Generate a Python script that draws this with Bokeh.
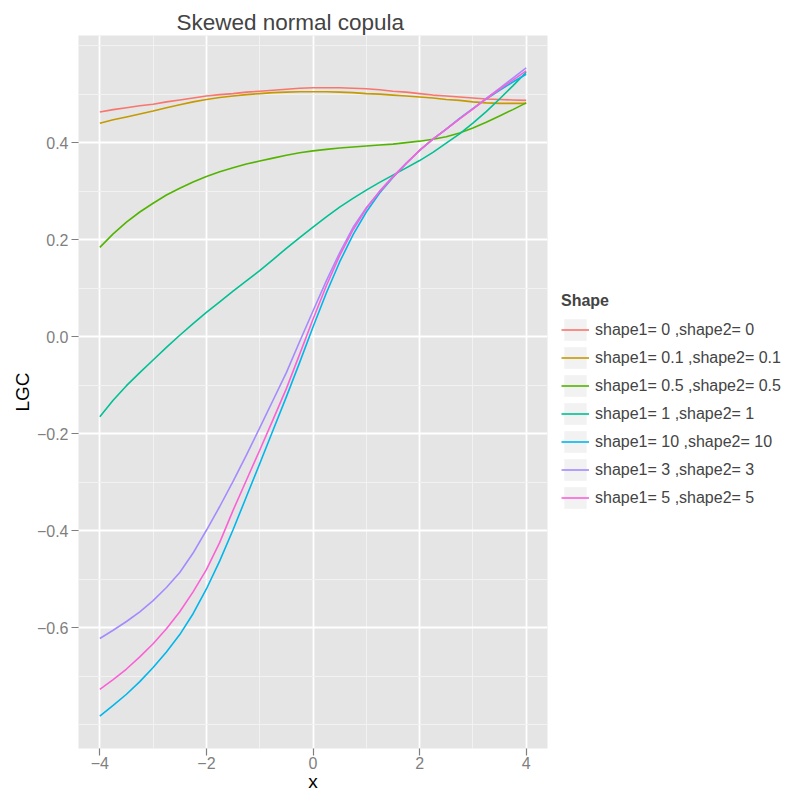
import numpy as np
from bokeh.plotting import figure
from bokeh.models import Range1d, FixedTicker, Legend, LegendItem, ColumnDataSource
from bokeh.embed import file_html
from bokeh.resources import INLINE

# ---------------- data ----------------
x_vals = [-4, -3.75, -3.5, -3.25, -3, -2.75, -2.5, -2.25, -2, -1.75, -1.5, -1.25, -1, -0.75, -0.5, -0.25,
          0, 0.25, 0.5, 0.75, 1, 1.25, 1.5, 1.75, 2, 2.25, 2.5, 2.75, 3, 3.25, 3.5, 3.75, 4]

lgc_s0 = [0.463, 0.468, 0.472, 0.476, 0.479, 0.484, 0.488, 0.492, 0.496, 0.499, 0.501, 0.504, 0.506, 0.508, 0.510, 0.512,
          0.513, 0.513, 0.513, 0.512, 0.511, 0.509, 0.506, 0.504, 0.501, 0.498, 0.496, 0.494, 0.492, 0.490, 0.489, 0.488, 0.487]
lgc_s01 = [0.440, 0.447, 0.453, 0.459, 0.465, 0.472, 0.478, 0.484, 0.489, 0.493, 0.496, 0.499, 0.501, 0.503, 0.504, 0.505,
           0.505, 0.505, 0.504, 0.503, 0.501, 0.500, 0.498, 0.496, 0.494, 0.492, 0.489, 0.487, 0.484, 0.482, 0.481, 0.481, 0.481]
lgc_s05 = [0.184, 0.212, 0.236, 0.257, 0.275, 0.292, 0.306, 0.319, 0.330, 0.340, 0.348, 0.356, 0.362, 0.368, 0.374, 0.379,
           0.383, 0.386, 0.389, 0.391, 0.393, 0.395, 0.397, 0.400, 0.403, 0.407, 0.412, 0.420, 0.430, 0.442, 0.455, 0.468, 0.482]
lgc_s1 = [-0.165, -0.131, -0.101, -0.074, -0.048, -0.022, 0.003, 0.027, 0.050, 0.072, 0.094, 0.115, 0.136, 0.159, 0.182, 0.204,
          0.226, 0.247, 0.267, 0.285, 0.302, 0.318, 0.333, 0.348, 0.363, 0.380, 0.399, 0.418, 0.440, 0.464, 0.490, 0.517, 0.545]
lgc_s10 = [-0.782, -0.760, -0.737, -0.711, -0.682, -0.650, -0.614, -0.571, -0.520, -0.462, -0.398, -0.330, -0.262, -0.193, -0.124, -0.053,
           0.020, 0.090, 0.154, 0.210, 0.257, 0.296, 0.328, 0.357, 0.384, 0.407, 0.428, 0.450, 0.470, 0.490, 0.508, 0.525, 0.541]
lgc_s3 = [-0.622, -0.605, -0.587, -0.567, -0.544, -0.517, -0.486, -0.446, -0.399, -0.350, -0.298, -0.244, -0.188, -0.131, -0.074, -0.010,
          0.053, 0.115, 0.173, 0.225, 0.266, 0.300, 0.330, 0.358, 0.384, 0.407, 0.428, 0.449, 0.470, 0.491, 0.512, 0.533, 0.554]
lgc_s5 = [-0.727, -0.707, -0.685, -0.660, -0.633, -0.602, -0.567, -0.526, -0.480, -0.424, -0.358, -0.296, -0.234, -0.171, -0.107, -0.036,
          0.036, 0.105, 0.167, 0.220, 0.264, 0.299, 0.329, 0.357, 0.384, 0.407, 0.428, 0.449, 0.469, 0.490, 0.510, 0.529, 0.548]

series_labels = ["shape1= 0 ,shape2= 0", "shape1= 0.1 ,shape2= 0.1", "shape1= 0.5 ,shape2= 0.5",
                 "shape1= 1 ,shape2= 1", "shape1= 10 ,shape2= 10", "shape1= 3 ,shape2= 3",
                 "shape1= 5 ,shape2= 5"]
series_values = [lgc_s0, lgc_s01, lgc_s05, lgc_s1, lgc_s10, lgc_s3, lgc_s5]
series_colors = ["#F8766D", "#C49A00", "#53B400", "#00C094", "#00B6EB", "#A58AFF", "#FB61D7"]

x_ticks = [-4, -2, 0, 2, 4]
x_tick_labels = ["\u22124", "\u22122", "0", "2", "4"]
x_minor = [-3, -1, 1, 3]
y_ticks = [-0.6, -0.4, -0.2, 0.0, 0.2, 0.4]
y_tick_labels = ["\u22120.6", "\u22120.4", "\u22120.2", "0.0", "0.2", "0.4"]
y_minor = [-0.8, -0.7, -0.5, -0.3, -0.1, 0.1, 0.3, 0.5, 0.6]

# ggplot-like 5% expansion of the data range
allx = np.array(x_vals, dtype=float)
ally = np.concatenate([np.array(s, dtype=float) for s in series_values])
dx = (allx.max() - allx.min()) * 0.05
dy = (ally.max() - ally.min()) * 0.05

FONT = "Liberation Sans"

p = figure(
    output_backend="svg", toolbar_location=None,
    frame_width=469, frame_height=713,
    min_border_left=78, min_border_right=242, min_border_top=35, min_border_bottom=46,
    x_range=Range1d(allx.min() - dx, allx.max() + dx),
    y_range=Range1d(ally.min() - dy, ally.max() + dy),
    background_fill_color="#E5E5E5", border_fill_color="white",
    outline_line_color=None,
    title="Skewed normal copula",
)

p.title.text_font = FONT
p.title.text_font_size = "22.5px"
p.title.text_font_style = "normal"
p.title.align = "left"
p.title.offset = 98
p.title.standoff = 2

# grids
p.xgrid.ticker = FixedTicker(ticks=x_ticks, minor_ticks=x_minor)
p.ygrid.ticker = FixedTicker(ticks=y_ticks, minor_ticks=y_minor)
for g in (p.xgrid, p.ygrid):
    g.grid_line_color = "white"
    g.grid_line_width = 1.8
    g.minor_grid_line_color = "#F2F2F2"
    g.minor_grid_line_width = 1.0

# axes
p.xaxis.ticker = FixedTicker(ticks=x_ticks)
p.yaxis.ticker = FixedTicker(ticks=y_ticks)
p.xaxis.major_label_overrides = {t: l for t, l in zip(x_ticks, x_tick_labels)}
p.yaxis.major_label_overrides = {t: l for t, l in zip(y_ticks, y_tick_labels)}
for ax in (p.xaxis, p.yaxis):
    ax.axis_line_color = None
    ax.major_tick_line_color = "#7F7F7F"
    ax.major_tick_line_width = 1.2
    ax.major_tick_out = 7
    ax.major_tick_in = 0
    ax.minor_tick_line_color = None
    ax.major_label_text_font = FONT
    ax.major_label_text_font_size = "16px"
    ax.major_label_text_color = "#7F7F7F"
    ax.major_label_text_line_height = 1.0
    ax.axis_label_text_font = FONT
    ax.axis_label_text_font_size = "19px"
    ax.axis_label_text_font_style = "normal"
    ax.axis_label_text_color = "black"
    ax.axis_label_text_line_height = 1.0
p.xaxis.axis_label = "x"
p.yaxis.axis_label = "LGC"
p.xaxis.major_label_standoff = 1
p.yaxis.major_label_standoff = 3
p.xaxis.axis_label_standoff = -1
p.yaxis.axis_label_standoff = 1

# lines + legend
items = []
for lab, vals, col in zip(series_labels, series_values, series_colors):
    src = ColumnDataSource(data=dict(x=x_vals, y=vals))
    # zero-size helper glyph: only used to paint the grey legend key box
    key_bg = p.rect(x=[x_vals[0]], y=[vals[0]], width=0, height=0,
                    fill_color="#F2F2F2", line_color=None)
    ln = p.line("x", "y", source=src, line_color=col, line_width=1.6)
    items.append(LegendItem(label=lab, renderers=[key_bg, ln]))

legend = Legend(items=items, title="Shape", location=(14, 237))
legend.title_text_font = FONT
legend.title_text_font_size = "16px"
legend.title_text_font_style = "bold"
legend.title_standoff = 6
legend.label_text_font = FONT
legend.label_text_font_size = "16px"
legend.label_standoff = 6
legend.glyph_width = 28
legend.glyph_height = 27
legend.spacing = 1
legend.padding = 3
legend.margin = 0
legend.border_line_color = None
legend.background_fill_color = "white"
p.add_layout(legend, "right")

open("out.html", "w").write(file_html(p, INLINE))
